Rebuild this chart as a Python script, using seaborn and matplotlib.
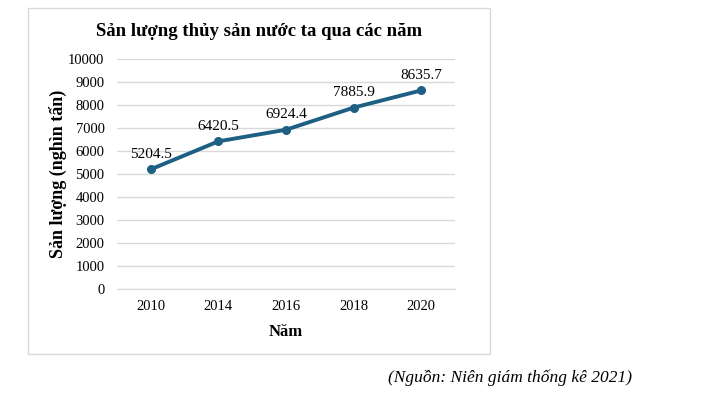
import matplotlib
matplotlib.use("Agg")
import matplotlib.pyplot as plt
import seaborn as sns
import pandas as pd
from matplotlib.patches import Rectangle

years = ["2010", "2014", "2016", "2018", "2020"]
values = [5204.5, 6420.5, 6924.4, 7885.9, 8635.7]
yticks = [0, 1000, 2000, 3000, 4000, 5000, 6000, 7000, 8000, 9000, 10000]

df = pd.DataFrame({"Năm": years, "Sản lượng": values})

sns.set_style("white")
plt.rcParams["font.family"] = ["Liberation Serif", "DejaVu Serif"]
plt.rcParams["text.color"] = "black"
plt.rcParams["axes.labelcolor"] = "black"
plt.rcParams["xtick.color"] = "black"
plt.rcParams["ytick.color"] = "black"

fig = plt.figure(figsize=(7.07, 3.96), dpi=100)
ax = fig.add_axes([0.1655, 0.2702, 0.4781, 0.5808])

# border round the chart area
fig.patches.append(Rectangle((0.0396, 0.106), 0.6535, 0.874, transform=fig.transFigure,
                             fill=False, edgecolor="#d9d9d9", linewidth=1))

color = "#1d6084"
sns.lineplot(data=df, x="Năm", y="Sản lượng", ax=ax, color=color, linewidth=2.8,
             marker="o", markersize=6.5, markeredgewidth=0, sort=False)

for i, v in enumerate(values):
    ax.annotate(f"{v:.1f}", (i, v), xytext=(0, 6), textcoords="offset points",
                ha="center", va="bottom", fontsize=11)

ax.set_xlim(-0.5, len(years) - 0.5)
ax.set_ylim(0, 10000)
ax.set_yticks(yticks)
ax.set_yticklabels([str(t) for t in yticks])
ax.grid(axis="y", color="#d9d9d9", linewidth=1)
ax.set_axisbelow(True)
for s in ["top", "right", "left"]:
    ax.spines[s].set_visible(False)
ax.spines["bottom"].set_color("#d9d9d9")
ax.tick_params(axis="both", length=0, labelsize=10.5, pad=8)
ax.tick_params(axis="y", pad=9)

fig.text(0.366, 0.92, "Sản lượng thủy sản nước ta qua các năm", fontsize=13.5,
         fontweight="bold", ha="center", va="center")
ax.set_xlabel("Năm", fontsize=12, fontweight="bold", labelpad=8)
ax.set_ylabel("Sản lượng (nghìn tấn)", fontsize=13, fontweight="bold", labelpad=0.5)

fig.text(0.894, 0.045, "(Nguồn: Niên giám thống kê 2021)", fontsize=12.5,
         style="italic", ha="right", va="center")

fig.savefig("out.png", dpi=100, facecolor="white")
